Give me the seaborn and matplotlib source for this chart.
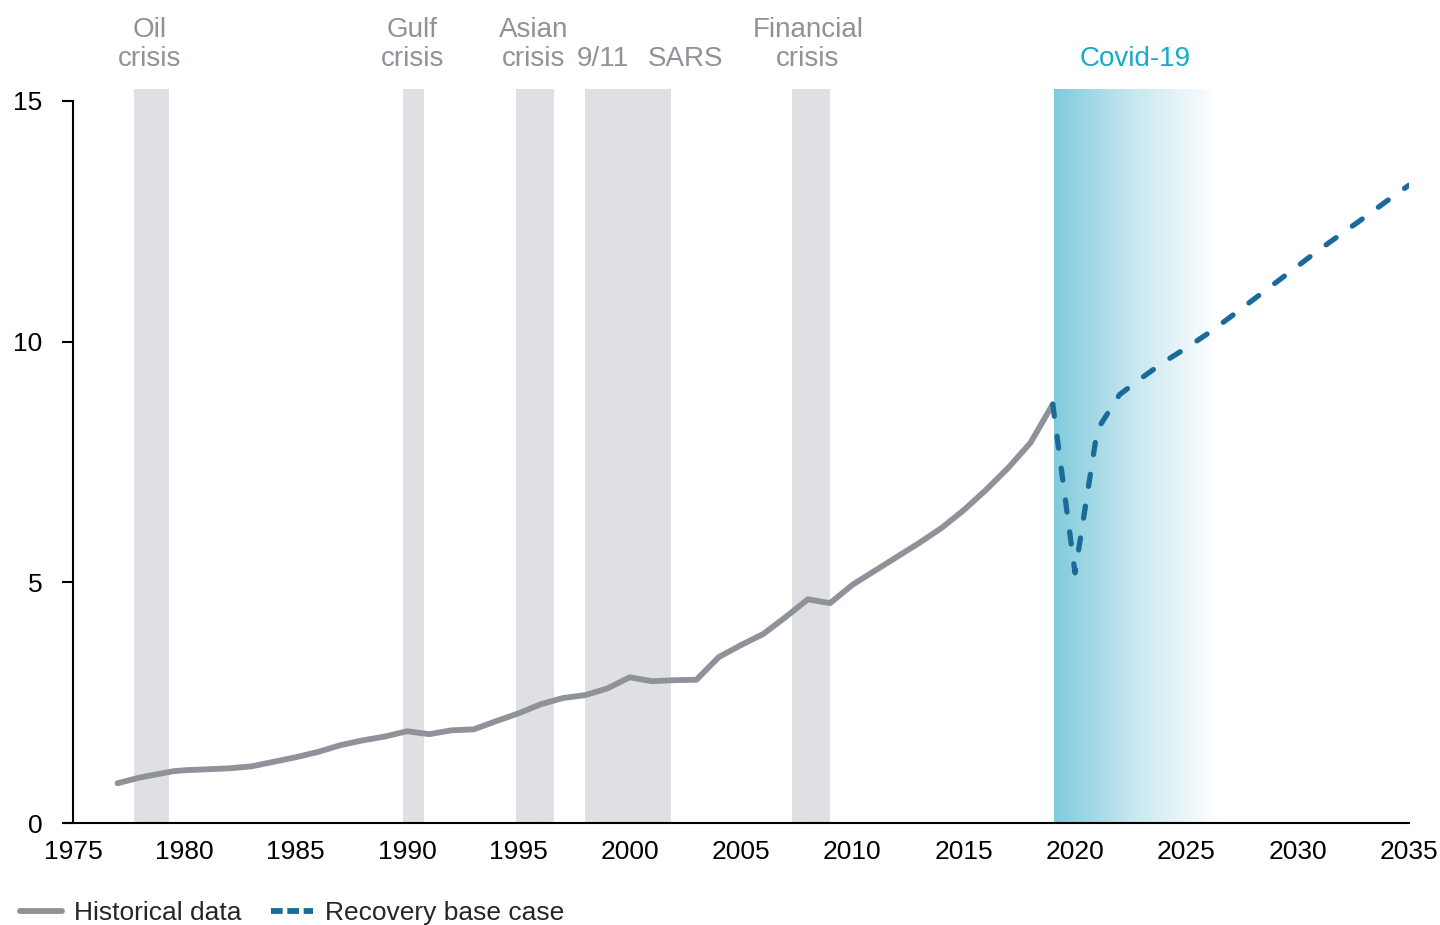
import matplotlib.pyplot as plt
import numpy as np
import pandas as pd
import seaborn as sns
from matplotlib.colors import LinearSegmentedColormap
from matplotlib.lines import Line2D

# Historical data (1977-2019)
hist_years = [1977, 1978, 1979.5, 1980, 1982, 1983, 1985, 1986, 1987, 1988, 1989,
              1990, 1991, 1992, 1993, 1994, 1995, 1996, 1997, 1998, 1999, 2000,
              2001, 2002, 2003, 2004, 2005, 2006, 2007, 2008, 2009, 2010, 2011,
              2012, 2013, 2014, 2015, 2016, 2017, 2018, 2019]
hist_values = [0.83, 0.95, 1.08, 1.10, 1.14, 1.18, 1.37, 1.48, 1.62, 1.72, 1.80,
               1.91, 1.85, 1.93, 1.95, 2.12, 2.28, 2.47, 2.60, 2.66, 2.80, 3.03,
               2.95, 2.97, 2.98, 3.45, 3.70, 3.93, 4.28, 4.65, 4.57, 4.95, 5.24,
               5.53, 5.82, 6.13, 6.50, 6.92, 7.38, 7.90, 8.70]

# Recovery base case (2019-2035)
rec_years = [2019, 2020, 2021, 2022, 2023, 2024, 2025, 2026, 2027, 2028, 2029,
             2030, 2031, 2032, 2033, 2034, 2035]
rec_values = [8.70, 5.20, 8.17, 8.90, 9.25, 9.58, 9.87, 10.18, 10.52, 10.87, 11.22,
              11.57, 11.92, 12.25, 12.58, 12.92, 13.25]

# Crisis periods
crisis_starts = [1977.75, 1989.8, 1994.9, 1998.0, 2007.3]
crisis_ends = [1979.3, 1990.75, 1996.6, 2001.85, 2009.0]
label_x = [1978.45, 1990.25, 1995.7, 1998.8, 2002.5, 2008.0]
label_text = ["Oil\ncrisis", "Gulf\ncrisis", "Asian\ncrisis", "9/11", "SARS", "Financial\ncrisis"]
covid_start, covid_end = 2019.05, 2026.4

GREY = "#8f9399"
BLUE = "#1a6b9a"
BAND = "#dfe0e4"
TEAL = "#16abc6"
FS = 19

sns.set_style("white")
plt.rcParams["font.family"] = ["Liberation Sans", "DejaVu Sans"]

fig = plt.figure(figsize=(14.4, 9.25), dpi=100)
ax = fig.add_axes([0.0507, 0.110, 0.9278, 0.794])

for s, e in zip(crisis_starts, crisis_ends):
    ax.axvspan(s, e, ymin=0, ymax=1, color=BAND, lw=0, zorder=0)

cmap = LinearSegmentedColormap.from_list("covid", ["#80cbdc", "#c9e8f0", "#ffffff"])
grad = np.linspace(0, 1, 256).reshape(1, -1)
ax.imshow(grad, cmap=cmap, aspect="auto", extent=[covid_start, covid_end, 0, 15.25],
          zorder=0, interpolation="bilinear")

df_hist = pd.DataFrame({"year": hist_years, "value": hist_values})
df_rec = pd.DataFrame({"year": rec_years, "value": rec_values})
sns.lineplot(data=df_hist, x="year", y="value", ax=ax, color=GREY, lw=4.2,
             solid_capstyle="round", solid_joinstyle="round", zorder=3)
sns.lineplot(data=df_rec, x="year", y="value", ax=ax, color=BLUE, lw=3.8,
             dashes=False, zorder=3)
ax.lines[-1].set_linestyle((0, (2.3, 3.8)))
ax.lines[-1].set_dash_capstyle("round")

ax.set_xlim(1975, 2035)
ax.set_ylim(0, 15.25)
ax.set_xticks(range(1975, 2036, 5))
ax.set_yticks([0, 5, 10, 15])
ax.set_xlabel("")
ax.set_ylabel("")
ax.tick_params(axis="x", length=0, labelsize=FS, pad=12, colors="black")
ax.tick_params(axis="y", length=8, width=1.5, labelsize=FS, pad=14, direction="out",
               left=True, colors="black")
for side in ["top", "right"]:
    ax.spines[side].set_visible(False)
ax.spines["left"].set_bounds(0, 15)
ax.spines["left"].set_linewidth(1.5)
ax.spines["left"].set_color("black")
ax.spines["bottom"].set_bounds(1974.6, 2035)
ax.spines["bottom"].set_linewidth(1.5)
ax.spines["bottom"].set_color("black")

for x, t in zip(label_x, label_text):
    ax.text(x, 15.6, t, ha="center", va="bottom", fontsize=20, color=GREY,
            linespacing=1.15, clip_on=False)
ax.text(2022.7, 15.6, "Covid-19", ha="center", va="bottom", fontsize=20, color=TEAL,
        clip_on=False)

handles = [Line2D([], [], color=GREY, lw=4.2),
           Line2D([], [], color=BLUE, lw=4.2, linestyle=(0, (2.0, 0.8)))]
fig.legend(handles, ["Historical data", "Recovery base case"], loc="center left",
           bbox_to_anchor=(0.014, 0.013), ncol=2, frameon=False, fontsize=FS,
           handlelength=1.6, handletextpad=0.45, columnspacing=1.1,
           borderaxespad=0, borderpad=0)

fig.savefig("out.png", dpi=100)
